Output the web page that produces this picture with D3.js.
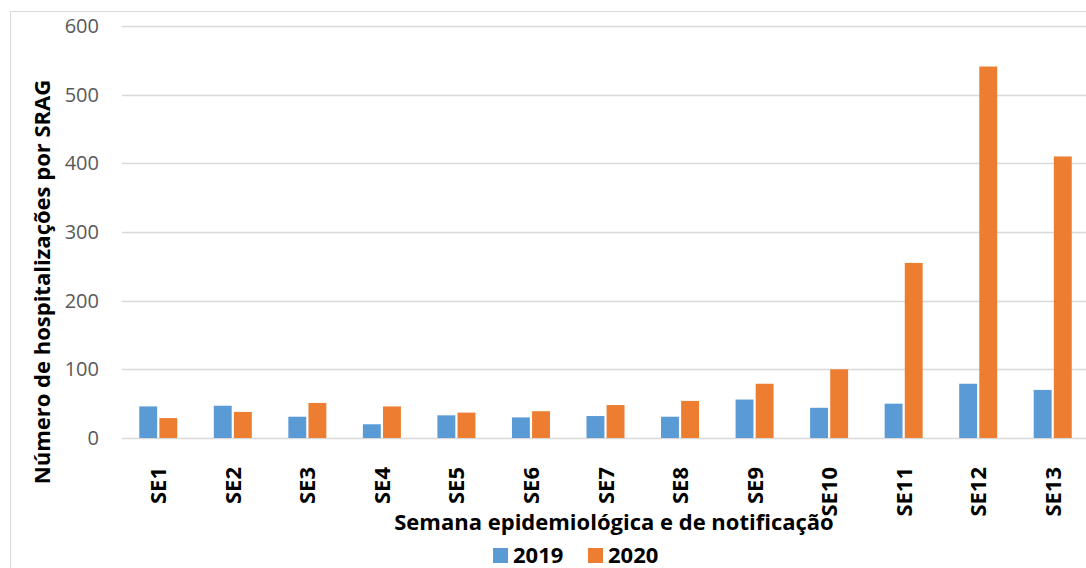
<!DOCTYPE html>
<html>
<head>
<meta charset="utf-8">
<script src="https://cdn.jsdelivr.net/npm/d3@7"></script>
<style>
  body { margin: 0; background: #fff; }
  svg text { font-family: "Open Sans", "Liberation Sans", sans-serif; }
</style>
</head>
<body>
<div id="chart"></div>
<script>
// ---------------- data ----------------
var weeks = ["SE1", "SE2", "SE3", "SE4", "SE5", "SE6", "SE7", "SE8", "SE9", "SE10", "SE11", "SE12", "SE13"];
var years = ["2019", "2020"];
var values2019 = [46, 47, 31, 20, 33, 30, 32, 31, 56, 44, 50, 79, 70];
var values2020 = [29, 38, 51, 46, 37, 39, 48, 54, 79, 100, 255, 541, 410];
var yTicks = [0, 100, 200, 300, 400, 500, 600];
var colors = ["#5B9BD5", "#ED7D31"];

// ---------------- svg ----------------
var width = 1086,
  height = 568;

var svg = d3.select("#chart").append("svg")
  .attr("width", width)
  .attr("height", height);

// chart frame
svg.append("rect")
  .attr("x", 10.5).attr("y", 11.5)
  .attr("width", 1090).attr("height", 600)
  .attr("fill", "none")
  .attr("stroke", "#d9d9d9");

var rows = weeks.map(function (w, i) {
  return { week: w, vals: [values2019[i], values2020[i]] };
});

var x0 = d3.scaleBand()
  .domain(weeks)
  .range([121, 1090])
  .paddingInner(0.49)
  .paddingOuter(0.245);

var x1 = d3.scaleBand()
  .domain(years)
  .range([0, x0.bandwidth()])
  .paddingInner(0.11);

var y = d3.scaleLinear()
  .domain([0, 600])
  .range([438, 26]);

// gridlines
svg.append("g")
  .selectAll("line")
  .data(yTicks)
  .enter().append("line")
  .attr("x1", 122).attr("x2", 1086)
  .attr("y1", function (d) { return Math.round(y(d)) + 0.5; })
  .attr("y2", function (d) { return Math.round(y(d)) + 0.5; })
  .attr("stroke", "#d9d9d9")
  .attr("stroke-width", 1.5);

// y tick labels
svg.append("g")
  .selectAll("text")
  .data(yTicks)
  .enter().append("text")
  .attr("x", 99)
  .attr("y", function (d) { return y(d); })
  .attr("dy", "0.35em")
  .attr("text-anchor", "end")
  .attr("fill", "#595959")
  .style("font-size", "20px")
  .text(function (d) { return d; });

// bars
var group = svg.append("g")
  .selectAll("g")
  .data(rows)
  .enter().append("g")
  .attr("transform", function (d) { return "translate(" + x0(d.week) + ",0)"; });

group.selectAll("rect")
  .data(function (d) { return d.vals.map(function (v, i) { return { year: years[i], v: v, i: i }; }); })
  .enter().append("rect")
  .attr("x", function (d) { return x1(d.year); })
  .attr("width", x1.bandwidth())
  .attr("y", function (d) { return y(d.v); })
  .attr("height", function (d) { return y(0) - y(d.v); })
  .attr("fill", function (d) { return colors[d.i]; });

// x labels (rotated)
svg.append("g")
  .selectAll("text")
  .data(weeks)
  .enter().append("text")
  .attr("transform", function (d) {
    return "translate(" + (x0(d) + x0.bandwidth() / 2 + 8) + ",467) rotate(-90)";
  })
  .attr("text-anchor", "end")
  .attr("font-weight", "bold")
  .attr("fill", "#000")
  .style("font-size", "22px")
  .text(function (d) { return d; });

// axis titles
svg.append("text")
  .attr("transform", "translate(50,282) rotate(-90)")
  .attr("text-anchor", "middle")
  .attr("font-weight", "bold")
  .style("font-size", "22px")
  .text("Número de hospitalizações por SRAG");

svg.append("text")
  .attr("x", 614)
  .attr("y", 530)
  .attr("text-anchor", "middle")
  .attr("font-weight", "bold")
  .style("font-size", "22px")
  .text("Semana epidemiológica e de notificação");

// legend
var legend = svg.append("g")
  .selectAll("g")
  .data(years)
  .enter().append("g")
  .attr("transform", function (d, i) { return "translate(" + (493 + i * 95) + ",548)"; });

legend.append("rect")
  .attr("width", 15).attr("height", 15)
  .attr("fill", function (d, i) { return colors[i]; });

legend.append("text")
  .attr("x", 20).attr("y", 15)
  .attr("font-weight", "bold")
  .style("font-size", "22px")
  .text(function (d) { return d; });
</script>
</body>
</html>
